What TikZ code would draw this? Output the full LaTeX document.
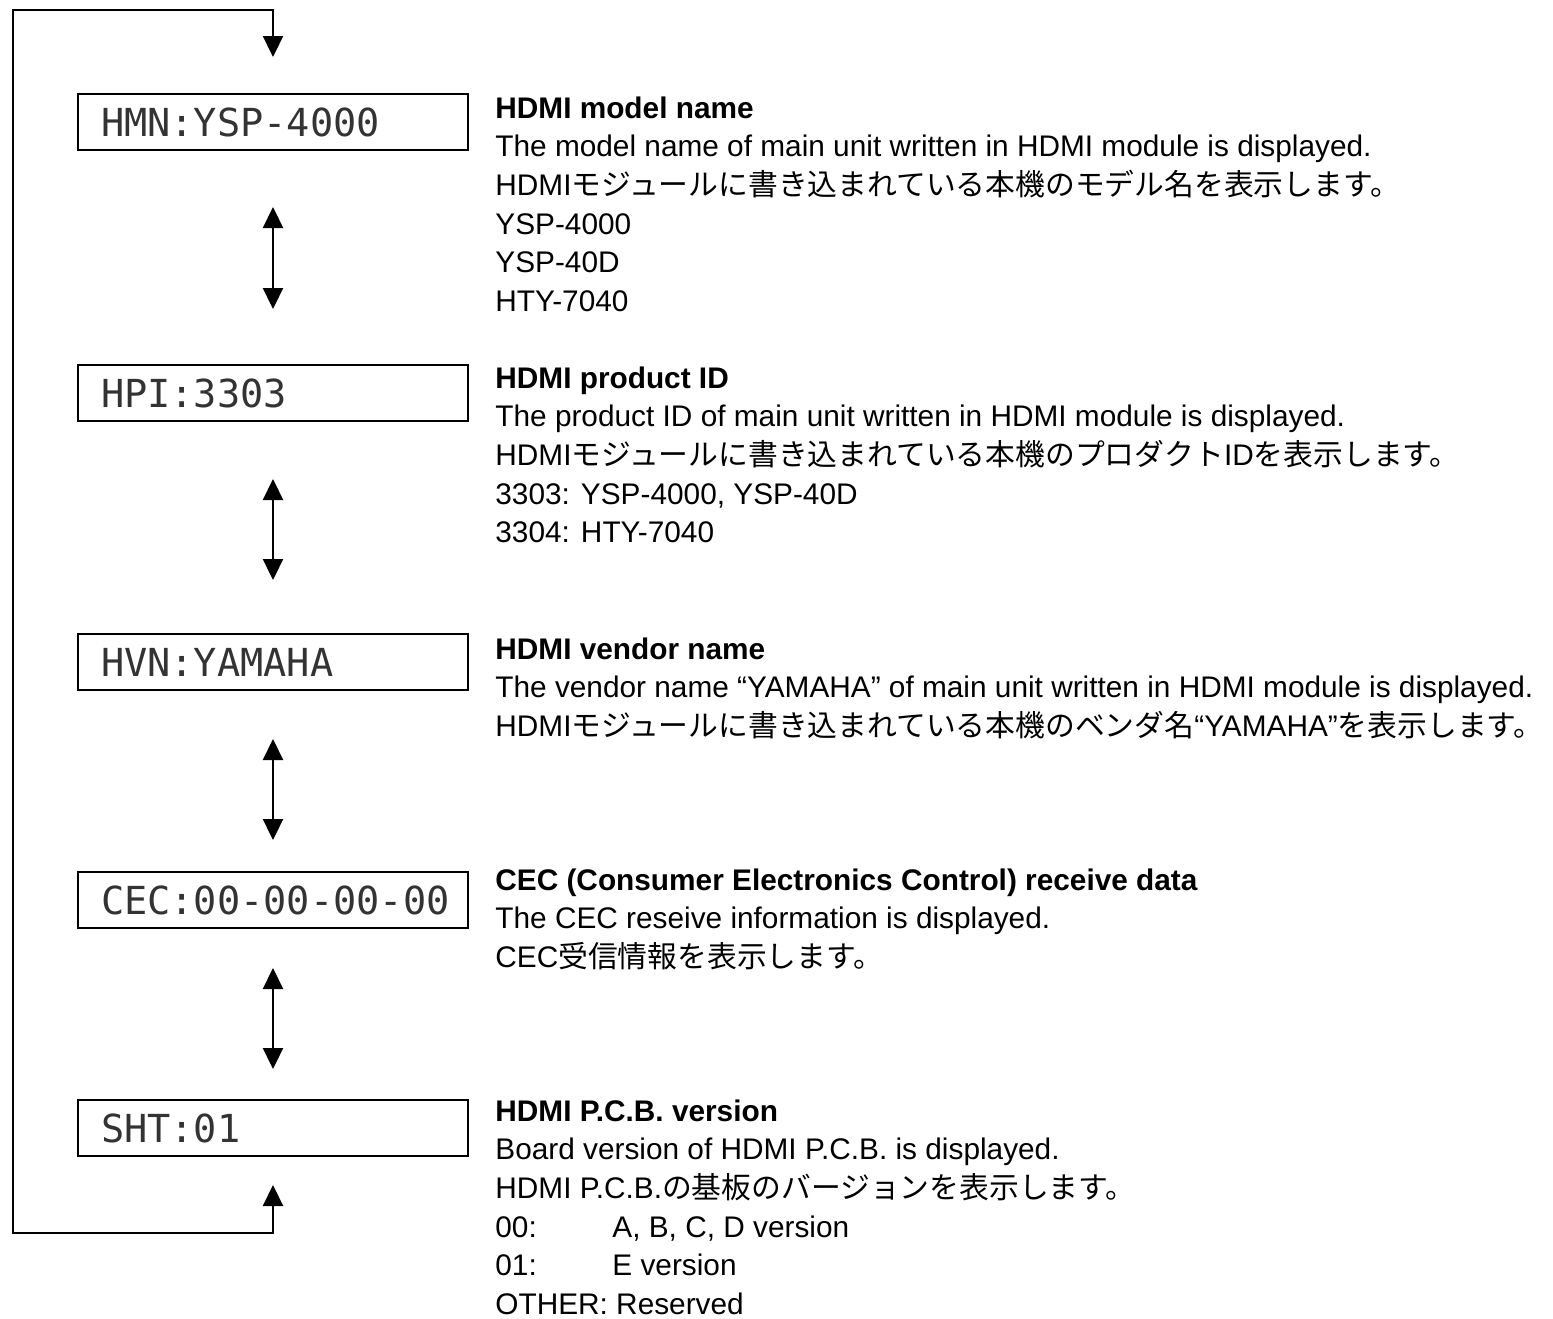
\documentclass[tikz,border=0pt]{standalone}
\usepackage{fontspec}
\setmainfont{Liberation Sans}
\newfontfamily\jp{Noto Sans CJK JP}
\newfontfamily\lcd{DejaVu Sans Mono}
\newcommand\lcdfont{\lcd\fontsize{19.3pt}{20pt}\selectfont\exhyphenpenalty=10000\relax}
\usetikzlibrary{arrows.meta,positioning}
\tikzset{
    display/.style={draw, line width=1pt, minimum height=28pt, text width=172pt,
    inner xsep=11.5pt, inner ysep=0pt, align=left, anchor=north west,
    font=\lcdfont, text=black!80},
    info/.style={anchor=north west, align=left, inner sep=0pt,
    font=\fontsize{14.9pt}{19.35pt}\selectfont},
    updown/.style={line width=1.15pt, {Triangle[width=10pt,length=10.5pt]}-{Triangle[width=10pt,length=10.5pt]}},
}

\begin{document}
\begin{tikzpicture}[x=0.5pt, y=-0.5pt]
            \useasboundingbox (0,0) rectangle (1553,1318);
            % --- display screens ---
            \node[display] (d1) at (77,93) {HMN:YSP-4000};
            \node[display] (d2) at (77,364) {HPI:3303};
            \node[display] (d3) at (77,633) {HVN:YAMAHA};
            \node[display] (d4) at (77,871) {CEC:00-00-00-00};
            \node[display] (d5) at (77,1099) {SHT:01};
            % --- scroll arrows ---
            \draw[updown, shorten <=28pt, shorten >=27.5pt] (d1) -- (d2);
            \draw[updown, shorten <=28.5pt, shorten >=26.5pt] (d2) -- (d3);
            \draw[updown, shorten <=24pt, shorten >=15.5pt] (d3) -- (d4);
            \draw[updown, shorten <=19.5pt, shorten >=15pt] (d4) -- (d5);
            % --- return loop ---
            \coordinate (lowcorner) at (13,1233);
            \coordinate (topcorner) at (13,10);
            \draw[updown, line join=miter, shorten <=14pt, shorten >=18pt]
                (d5.south) |- (lowcorner) -- (topcorner) -| (d1.north);
            % --- descriptions ---
            \node[info] (t1) at (495,96) {\textbf{HDMI model name}\\
                The model name of main unit written in HDMI module is displayed.\\
                HDMI{\jp モジュールに書き込まれている本機のモデル名を表示します。}\\
                YSP-4000\\
                YSP-40D\\
                HTY-7040};
            \node[info] (t2) at (495,366) {\textbf{HDMI product ID}\\
                The product ID of main unit written in HDMI module is displayed.\\
                HDMI{\jp モジュールに書き込まれている本機のプロダクト}ID{\jp を表示します。}\\
                3303: YSP-4000, YSP-40D\\
                3304: HTY-7040};
            \node[info] (t3) at (495,637) {\textbf{HDMI vendor name}\\
                The vendor name “YAMAHA” of main unit written in HDMI module is displayed.\\
                HDMI{\jp モジュールに書き込まれている本機のベンダ名}“YAMAHA”{\jp を表示します。}};
            \node[info] (t4) at (495,868) {\textbf{CEC (Consumer Electronics Control) receive data}\\
                The CEC reseive information is displayed.\\
                CEC{\jp 受信情報を表示します。}};
            \node[info] (t5) at (495,1099) {\textbf{HDMI P.C.B. version}\\
                Board version of HDMI P.C.B. is displayed.\\
                HDMI P.C.B.{\jp の基板のバージョンを表示します。}\\
                \makebox[58.5pt][l]{00:}A, B, C, D version\\
                \makebox[58.5pt][l]{01:}E version\\
                OTHER: Reserved};
        \end{tikzpicture}
\end{document}
